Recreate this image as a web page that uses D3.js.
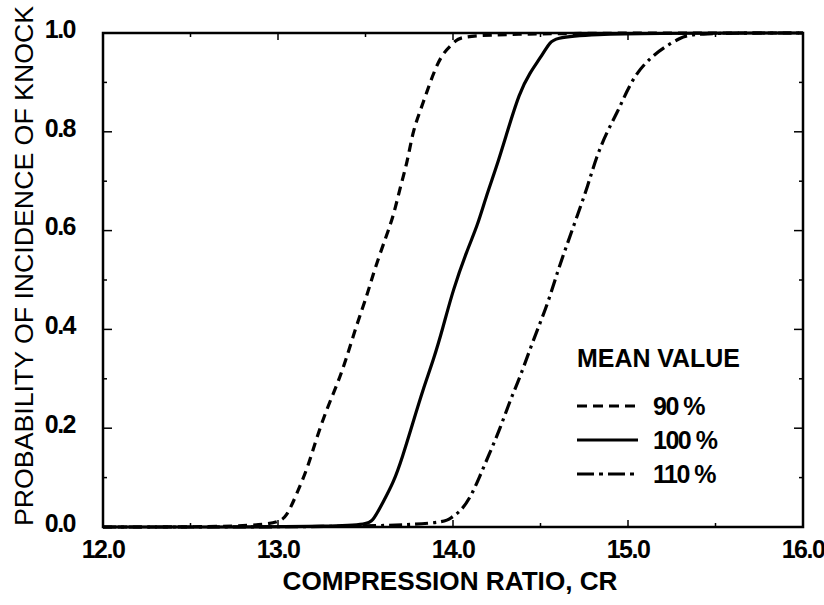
<!DOCTYPE html>
<html><head><meta charset="utf-8">
<script src="https://cdn.jsdelivr.net/npm/d3@7"></script>
<style>body{margin:0;background:#fff}svg{display:block}</style>
</head><body>
<svg id="c" width="824" height="605"></svg>
<script>
const xTicks = [12.0, 13.0, 14.0, 15.0, 16.0];
const yTicks = [0.0, 0.2, 0.4, 0.6, 0.8, 1.0];
const seriesNames = ["90 %", "100 %", "110 %"];
const x90 = [12.0, 12.98, 13.05, 13.11, 13.17, 13.22, 13.28, 13.34, 13.39, 13.45, 13.51, 13.55, 13.62, 13.66, 13.70, 13.74, 13.77, 13.81, 13.85, 13.89, 13.94, 14.02, 14.06, 16.0];
const y90 = [0.0, 0.0, 0.02, 0.07, 0.12, 0.18, 0.24, 0.29, 0.34, 0.41, 0.47, 0.52, 0.59, 0.63, 0.69, 0.74, 0.80, 0.84, 0.88, 0.92, 0.96, 0.985, 1.0, 1.0];
const x100 = [12.0, 13.49, 13.54, 13.60, 13.66, 13.71, 13.77, 13.83, 13.89, 13.94, 14.00, 14.08, 14.14, 14.19, 14.25, 14.31, 14.38, 14.44, 14.50, 14.55, 14.61, 16.0];
const y100 = [0.0, 0.0, 0.01, 0.05, 0.09, 0.14, 0.21, 0.28, 0.34, 0.40, 0.48, 0.56, 0.61, 0.67, 0.73, 0.80, 0.88, 0.92, 0.95, 0.98, 1.0, 1.0];
const x110 = [12.0, 13.93, 13.99, 14.04, 14.10, 14.15, 14.21, 14.27, 14.33, 14.38, 14.46, 14.54, 14.60, 14.65, 14.71, 14.77, 14.82, 14.88, 14.94, 14.99, 15.05, 15.13, 15.20, 15.30, 15.36, 16.0];
const y110 = [0.0, 0.0, 0.02, 0.03, 0.06, 0.10, 0.15, 0.20, 0.26, 0.30, 0.38, 0.45, 0.52, 0.57, 0.63, 0.69, 0.75, 0.80, 0.84, 0.88, 0.92, 0.95, 0.97, 0.99, 1.0, 1.0];

const svg = d3.select("#c");
const W = {l: 103, r: 803, t: 33, b: 527};
const x = d3.scaleLinear().domain([12, 16]).range([W.l, W.r]);
const y = d3.scaleLinear().domain([0, 1]).range([W.b, W.t]);
const font = "'Liberation Sans', Arial, Helvetica, sans-serif";

// curves
const dashes = ["9,6", null, "13,5,3,5"];
const seriesX = [x90, x100, x110];
const seriesY = [y90, y100, y110];
const line = d3.line().x(d => x(d[0])).y(d => y(d[1])).curve(d3.curveBasis);
seriesX.forEach((xs, i) => {
  const pts = xs.map((v, j) => [v, seriesY[i][j]]);
  svg.append("path").attr("d", line(pts)).attr("fill", "none")
    .attr("stroke", "#000").attr("stroke-width", 3.2)
    .attr("stroke-dasharray", dashes[i]);
});

// frame
svg.append("rect").attr("x", W.l).attr("y", W.t).attr("width", W.r - W.l).attr("height", W.b - W.t)
  .attr("fill", "none").attr("stroke", "#000").attr("stroke-width", 2.5);

// ticks (inward)
const g = svg.append("g").attr("stroke", "#000").attr("stroke-width", 1.5);
d3.range(0, 1.0001, 0.1).forEach((v, i) => {
  const len = i % 2 === 0 ? 9 : 4;
  g.append("line").attr("x1", W.l).attr("x2", W.l + len).attr("y1", y(v)).attr("y2", y(v));
  g.append("line").attr("x1", W.r).attr("x2", W.r - len).attr("y1", y(v)).attr("y2", y(v));
});
d3.range(12, 16.0001, 0.5).forEach((v, i) => {
  const len = i % 2 === 0 ? 7 : 4;
  g.append("line").attr("y1", W.b).attr("y2", W.b - len).attr("x1", x(v)).attr("x2", x(v));
  g.append("line").attr("y1", W.t).attr("y2", W.t + len).attr("x1", x(v)).attr("x2", x(v));
});

// tick labels
svg.append("g").selectAll("text").data(yTicks).join("text")
  .attr("x", 75).attr("y", d => y(d) - 4).attr("dy", "0.35em")
  .attr("text-anchor", "end").attr("font-family", font).attr("font-weight", "bold")
  .attr("font-size", 25).attr("letter-spacing", -1.5).text(d => d.toFixed(1));
svg.append("g").selectAll("text").data(xTicks).join("text")
  .attr("x", d => x(d)).attr("y", 558)
  .attr("text-anchor", "middle").attr("font-family", font).attr("font-weight", "bold")
  .attr("font-size", 25).attr("letter-spacing", -1.5).text(d => d.toFixed(1));

// axis titles
svg.append("text").attr("x", 450).attr("y", 590).attr("text-anchor", "middle")
  .attr("font-family", font).attr("font-weight", "bold").attr("font-size", 25)
  .attr("textLength", 335).attr("lengthAdjust", "spacingAndGlyphs")
  .text("COMPRESSION RATIO, CR");
svg.append("text").attr("transform", "translate(33,266) rotate(-90)").attr("text-anchor", "middle")
  .attr("font-family", font).attr("font-size", 26)
  .attr("textLength", 520).attr("lengthAdjust", "spacingAndGlyphs")
  .text("PROBABILITY OF INCIDENCE OF KNOCK");

// legend
const lg = svg.append("g");
lg.append("text").attr("x", 577).attr("y", 367).attr("font-family", font).attr("font-weight", "bold")
  .attr("font-size", 25).attr("textLength", 163).attr("lengthAdjust", "spacingAndGlyphs").text("MEAN VALUE");
const legendDash = ["10,6", null, "17,5,4,5"];
seriesNames.forEach((n, i) => {
  const yy = 406 + i * 34;
  lg.append("line").attr("x1", 577).attr("x2", 638).attr("y1", yy).attr("y2", yy)
    .attr("stroke", "#000").attr("stroke-width", 3).attr("stroke-dasharray", legendDash[i]);
  lg.append("text").attr("x", 653).attr("y", yy + 9).attr("font-family", font).attr("font-weight", "bold")
    .attr("font-size", 25).attr("letter-spacing", -1.5).text(n);
});
</script>
</body></html>
